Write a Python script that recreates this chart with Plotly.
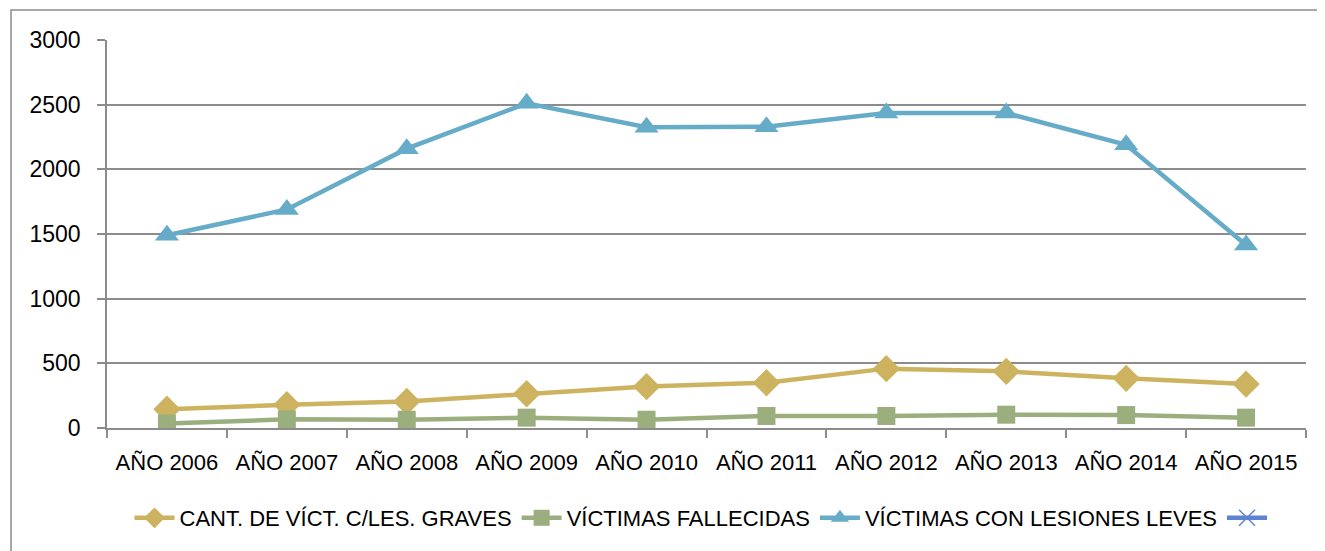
import plotly.graph_objects as go

categories = ["AÑO 2006", "AÑO 2007", "AÑO 2008", "AÑO 2009", "AÑO 2010",
              "AÑO 2011", "AÑO 2012", "AÑO 2013", "AÑO 2014", "AÑO 2015"]
graves = [145, 180, 205, 265, 320, 350, 459, 438, 384, 340]
fallecidas = [35, 67, 64, 80, 64, 93, 93, 103, 100, 80]
leves = [1490, 1690, 2160, 2510, 2325, 2330, 2435, 2435, 2190, 1415]
extra = [None] * 10

names = ["CANT. DE VÍCT. C/LES. GRAVES", "VÍCTIMAS FALLECIDAS",
         "VÍCTIMAS CON LESIONES LEVES", " "]
y_ticks = [0, 500, 1000, 1500, 2000, 2500, 3000]

FONT = "Liberation Sans, Arial, sans-serif"

fig = go.Figure()
fig.add_trace(go.Scatter(x=categories, y=graves, name=names[0], mode="lines+markers",
                         line=dict(color="#CDB35F", width=4.5),
                         marker=dict(symbol="diamond", size=21, color="#CDB35F")))
fig.add_trace(go.Scatter(x=categories, y=fallecidas, name=names[1], mode="lines+markers",
                         line=dict(color="#9BAF7E", width=4.5),
                         marker=dict(symbol="square", size=18, color="#9BAF7E")))
fig.add_trace(go.Scatter(x=categories, y=leves, name=names[2], mode="lines+markers",
                         line=dict(color="#66ACC8", width=4.5),
                         marker=dict(symbol="triangle-up", size=21, color="#66ACC8")))
fig.add_trace(go.Scatter(x=categories, y=extra, name=names[3], mode="lines+markers",
                         line=dict(color="#5F82D3", width=4.5),
                         marker=dict(symbol="x-thin", size=16, color="#5F82D3",
                                     line=dict(color="#5F82D3", width=1.5))))

OFF = 8  # browser default body margin
W, H = 1325 - OFF, 551 - OFF
L, T = 107 - OFF, 40 - OFF
R = 1325 - 1306
B = 551 - 428
pw = W - L - R
ph = H - T - B

fig.update_layout(
    width=W, height=H,
    margin=dict(l=L, r=R, t=T, b=B, autoexpand=False),
    paper_bgcolor="white", plot_bgcolor="white",
    font=dict(family=FONT, size=22, color="black"),
    showlegend=True,
    legend=dict(orientation="h", x=0.5, xanchor="center",
                y=(428 - 518) / ph, yanchor="middle",
                font=dict(size=22), itemwidth=40, tracegroupgap=0),
    xaxis=dict(type="category", tickson="boundaries", ticks="outside", ticklen=8,
               tickcolor="#8C8C8C", tickwidth=1.5, showgrid=False,
               showline=True, linecolor="#8C8C8C", linewidth=1.5,
               tickfont=dict(size=22), tickangle=0, range=[-0.5, 9.5],
               ticklabelstandoff=14),
    yaxis=dict(range=[0, 3000], tickvals=y_ticks, ticks="outside", ticklen=8,
               tickcolor="#8C8C8C", tickwidth=1.5, showgrid=True,
               gridcolor="#8C8C8C", gridwidth=1.5, showline=True,
               linecolor="#8C8C8C", linewidth=1.5, zeroline=False,
               tickfont=dict(size=23), ticklabelstandoff=12),
    shapes=[dict(type="rect", xref="paper", yref="paper",
                 x0=(11 - 107) / pw, x1=(1324 - 107) / pw,
                 y0=(428 - 560) / ph, y1=(428 - 10) / ph,
                 line=dict(color="#8C8C8C", width=1.5), layer="below")],
)

fig.write_html("out.html")
